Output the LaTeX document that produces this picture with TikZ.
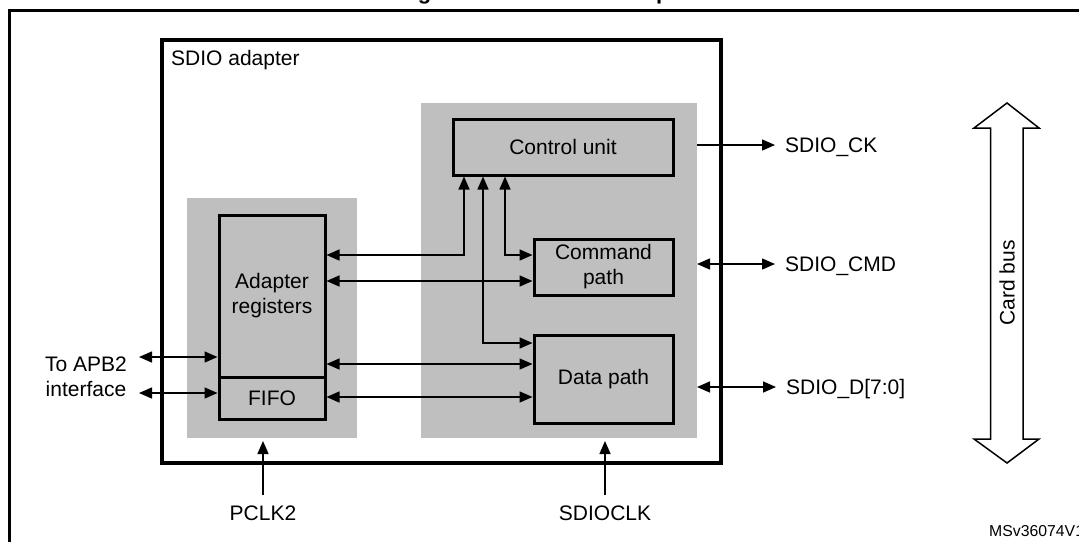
\documentclass[tikz,border=0pt]{standalone}
\usepackage{fontspec}
\setmainfont{Liberation Sans}
\usetikzlibrary{positioning,arrows.meta}
\tikzstyle{zone}=[fill=black!25, inner sep=0pt, outer sep=0pt]
\tikzstyle{frame}=[draw, line width=3.5pt, inner sep=0pt]
\tikzstyle{unit}=[draw, line width=3pt, fill=black!25, inner sep=0pt, align=center, font=\fontsize{21}{25}\selectfont]
\tikzstyle{lbl}=[inner sep=0pt, text height=15pt, text depth=0pt, font=\fontsize{21}{25}\selectfont]
\tikzstyle{sig}=[line width=1.5pt, >={Triangle[length=13pt,width=11pt]}]

\begin{document}
\begin{tikzpicture}[x=1pt, y=-1pt]
	\useasboundingbox (0,0) rectangle (1079,542);
	\draw[line width=3pt] (9.5,542) -- (9.5,10.5) -- (1079,10.5);
	\node[anchor=base, inner sep=0pt, font=\fontsize{22}{26}\bfseries\selectfont] (title) at (548,-0.8) {Figure 376.\hspace{44pt}SDIO adapter};

	\node[zone, minimum width=170pt, minimum height=240pt] (left) at (272,318) {};
	\node[zone, minimum width=276pt, minimum height=335pt] (right) at (559,270.5) {};
	\node[frame, minimum width=559pt, minimum height=423pt] (adapter) at (441.5,251.5) {};
	\node[lbl, anchor=west] (name) at (171,58) {SDIO adapter};

	\node[unit, minimum width=220pt, minimum height=56pt] (ctrl) at (563,147) {Control unit};
	\node[unit, minimum width=139pt, minimum height=56pt] (cmd) at (603.5,267) {Command\\path};
	\node[unit, minimum width=139pt, minimum height=88pt] (data) at (603.5,379) {Data path};
	\node[unit, minimum width=106pt, minimum height=162pt] (regs) at (272,296) {Adapter\\registers};
	\node[unit, minimum width=106pt, minimum height=42pt] (fifo) at (272,398) {FIFO};

	% free ends
	\coordinate (apba) at (139,357);
	\coordinate (apbb) at (139,393);
	\coordinate (ckend) at (775,145);
	\coordinate (cmdend) at (775,264);
	\coordinate (dend) at (776,387);
	\coordinate (pclk) at (263,495);
	\coordinate (sclk) at (605,495);

	\node[lbl, right=10pt of ckend] (ck) {SDIO\_CK};
	\node[lbl, right=10pt of cmdend] (cmdl) {SDIO\_CMD};
	\node[lbl, right=10pt of dend] (dl) {SDIO\_D[7:0]};
	\node[lbl, below=10pt of pclk] (pl) {PCLK2};
	\node[lbl, below=10pt of sclk] (sl) {SDIOCLK};
	\node[inner sep=0pt, align=center, font=\fontsize{21}{25}\selectfont] (apb) at (86,377) {To APB2\\interface};
	\node[anchor=mid west, inner sep=0pt, font=\fontsize{15.8}{18}\selectfont] (ref) at (989,534) {MSv36074V1};

	\draw[sig, <->] (apba) -- (regs.west |- apba);
	\draw[sig, <->] (apbb) -- (fifo.west |- apbb);
	\draw[sig, <->] (regs.east |- 0,255) -| (ctrl.south -| 464,0);
	\draw[sig, <->] (regs.east |- 0,281) -- (cmd.west |- 0,281);
	\draw[sig, <->] (ctrl.south -| 505,0) |- (cmd.west |- 0,255);
	\draw[sig, <->] (ctrl.south -| 483,0) |- (data.west |- 0,343);
	\draw[sig, <->] (regs.east |- 0,364) -- (data.west |- 0,364);
	\draw[sig, <->] (fifo.east |- 0,397) -- (data.west |- 0,397);
	\draw[sig, ->] (right.east |- ckend) -- (ckend);
	\draw[sig, <->] (right.east |- cmdend) -- (cmdend);
	\draw[sig, <->] (right.east |- dend) -- (dend);
	\draw[sig, ->] (pclk) -- (pclk |- 0,441);
	\draw[sig, ->] (sclk) -- (sclk |- 0,441);

	% card bus
	\draw[line width=1.5pt, miter limit=10] (1007,103) -- (1039,128) -- (1023,128) -- (1023,439) -- (1039,439) -- (1007,463) -- (974,439) -- (990.5,439) -- (990.5,128) -- (974,128) -- cycle;
	\node[lbl, rotate=90] (bus) at (1007,283) {Card bus};
\end{tikzpicture}
\end{document}
